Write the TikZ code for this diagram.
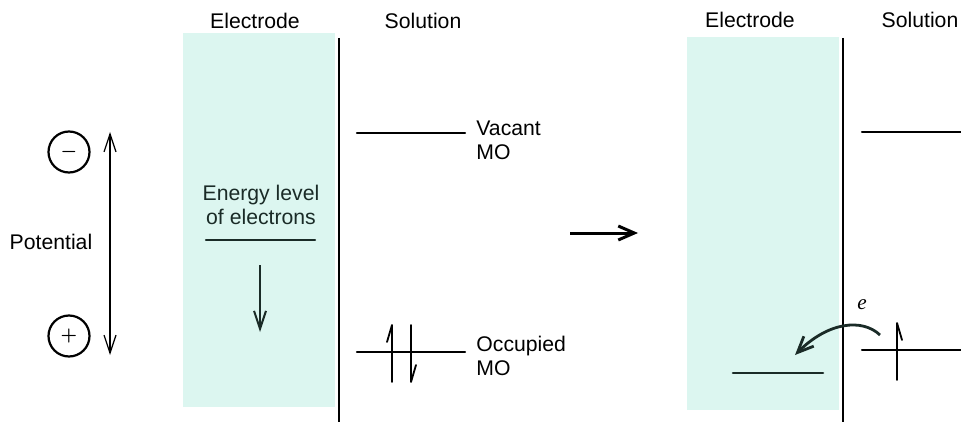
\documentclass[tikz,border=0pt]{standalone}
\usepackage{fontspec}
\setmainfont{Liberation Sans}
\newfontfamily\serifit{Liberation Serif}
\usetikzlibrary{arrows.meta, positioning}
\definecolor{mint}{HTML}{DCF6F0}
\definecolor{ink}{HTML}{1A2B27}

\begin{document}
\begin{tikzpicture}[x=0.5pt, y=-0.5pt, font=\fontsize{10.6}{12}\selectfont,
    lbl/.style={inner sep=0pt, align=center},
    mo/.style={inner sep=0pt, align=left, anchor=west},
    level/.style={line width=1.1pt, line cap=round},
    wall/.style={line width=1pt},
    sign/.style={draw, circle, minimum size=20.5pt, inner sep=0pt, line width=1.1pt, font=\fontsize{9}{9}\selectfont\boldmath},
    barb/.style={line width=0.6pt, {Straight Barb[length=9pt, width=6pt]}-{Straight Barb[length=9pt, width=6pt]}},
    fall/.style={line width=1pt, -{Straight Barb[length=9pt, width=6pt]}},
    spin/.style={line width=0.9pt, line cap=round, line join=round}]
    \useasboundingbox (0,0) rectangle (961,422);

    % Electrode regions
    \fill[mint] (183,33) rectangle (335,407);
    \fill[mint] (687,37) rectangle (839,410);

    % Potential scale
    \node[sign] (neg) at (69,152) {$-$};
    \node[sign] (pos) at (69,336) {$+$};
    \node[lbl] (pot) at (51,242) {Potential};
    \coordinate (ptop) at (110,132);
    \coordinate (pbot) at (110,355);
    \draw[barb] (pbot) -- (ptop);

    % Before: headings and wall
    \node[lbl] (elA) at (255,21) {Electrode};
    \node[lbl] (soA) at (423,21) {Solution};
    \draw[wall] (339,38) -- (339,422);

    % Before: electrode level
    \node[lbl, text=ink] (enA) at (261,205) {Energy level\\of electrons};
    \coordinate (fA1) at (206,240);
    \coordinate (fA2) at (315,240);
    \draw[level, ink] (fA1) -- (fA2);
    \coordinate (dnA1) at (260,265);
    \coordinate (dnA2) at (260,332);
    \draw[fall, ink] (dnA1) -- (dnA2);

    % Before: orbitals in solution
    \coordinate (vA1) at (357,133);
    \coordinate (vA2) at (465,133);
    \draw[level] (vA1) -- (vA2);
    \node[mo] (vacA) at (476,140) {Vacant\\MO};
    \coordinate (oA1) at (357,352);
    \coordinate (oA2) at (465,352);
    \draw[level] (oA1) -- (oA2);
    \node[mo] (occA) at (476,356) {Occupied\\MO};
    \draw[spin] (392,382) -- (392,325) -- (387,342);
    \draw[spin] (411,325) -- (411,382) -- (416,365);

    % Change of potential
    \coordinate (go1) at (570,233);
    \coordinate (go2) at (638,233);
    \draw[line width=1.5pt, -{Straight Barb[length=8pt, width=7pt]}] (go1) -- (go2);

    % After: headings and wall
    \node[lbl] (elB) at (750,20) {Electrode};
    \node[lbl] (soB) at (920,20) {Solution};
    \draw[wall] (843,38) -- (843,422);

    % After: levels
    \coordinate (vB1) at (862,132);
    \coordinate (vB2) at (961,132);
    \draw[level] (vB1) -- (vB2);
    \coordinate (oB1) at (862,350);
    \coordinate (oB2) at (961,350);
    \draw[level] (oB1) -- (oB2);
    \draw[spin] (897,380) -- (897,323) -- (902,340);
    \coordinate (fB1) at (733,373);
    \coordinate (fB2) at (823,373);
    \draw[level, ink, line width=1.3pt] (fB1) -- (fB2);

    % Electron transfer
    \coordinate (etA) at (880,335);
    \coordinate (etB) at (795,355);
    \draw[line width=1.4pt, ink, -{Straight Barb[length=8pt, width=7pt]}]
        (etA) .. controls (862,318) and (828,322) .. (etB);
    \node[lbl] (elec) at (862,305) {\serifit\itshape e};
\end{tikzpicture}
\end{document}
